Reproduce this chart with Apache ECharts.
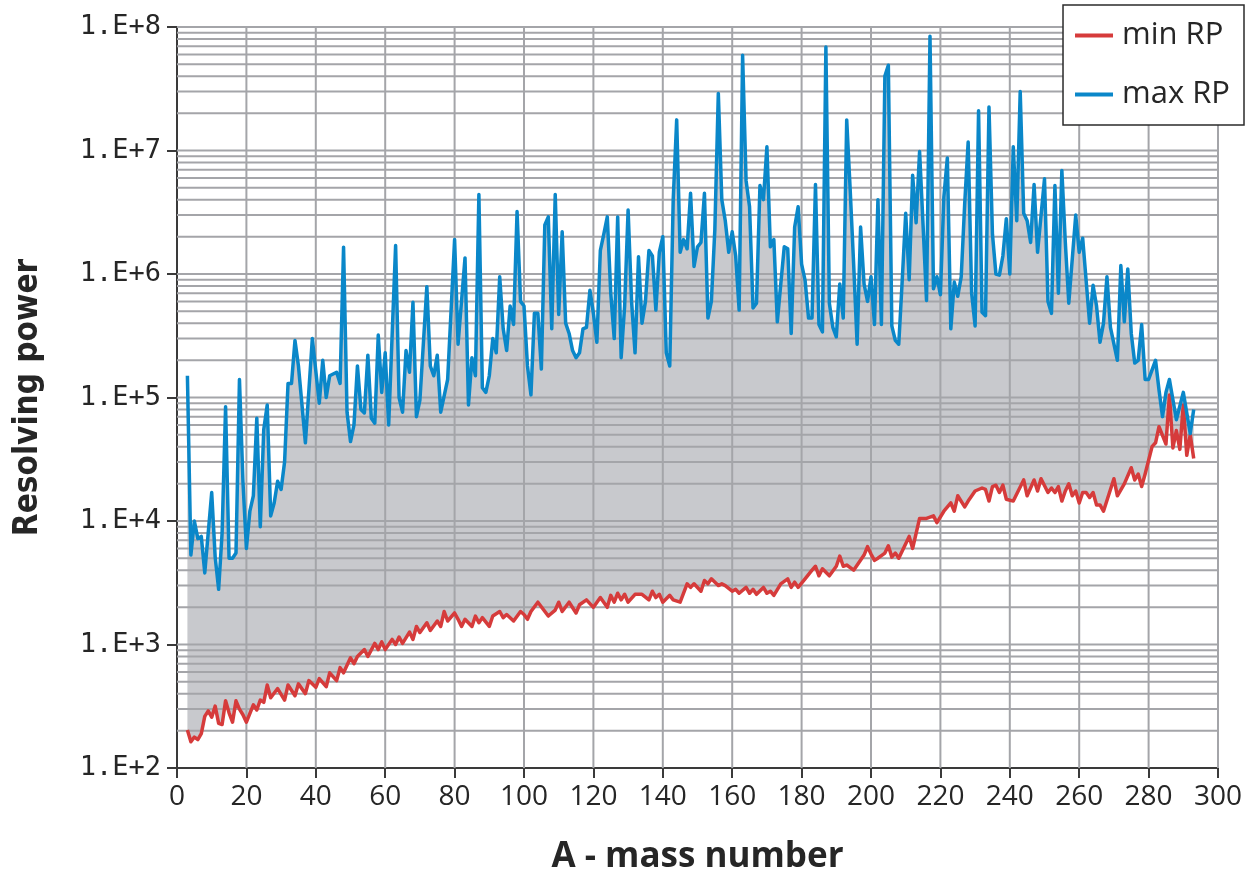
<!DOCTYPE html>
<html>
<head>
<meta charset="utf-8">
<title>Resolving power vs mass number</title>
<script src="https://cdn.jsdelivr.net/npm/echarts@6/dist/echarts.min.js"></script>
<style>
  html, body { margin: 0; padding: 0; background: #ffffff; }
  #chart { width: 1251px; height: 880px; }
</style>
</head>
<body>
<div id="chart"></div>
<script>
// Maximum resolving power per mass number (turning points of the curve)
const maxA = [
  3, 4, 5, 6, 7, 8, 10, 11, 12, 13, 14, 15, 16, 17, 18, 19, 20, 21, 22, 23,
  24, 25, 26, 27, 28, 29, 30, 31, 32, 33, 34, 35, 37, 39, 41, 42, 43, 44, 46, 47,
  48, 49, 50, 51, 52, 53, 54, 55, 56, 57, 58, 59, 60, 61, 63, 64, 65, 66, 67, 68,
  69, 70, 72, 73, 74, 75, 76, 78, 80, 81, 83, 84, 85, 86, 87, 88, 89, 90, 91, 92,
  93, 94, 95, 96, 97, 98, 99, 100, 101, 102, 103, 104, 105, 106, 107, 108, 109, 110, 111, 112,
  113, 114, 115, 116, 117, 118, 119, 120, 121, 122, 123, 124, 125, 126, 127, 128, 129, 130, 131, 132,
  133, 134, 135, 136, 137, 138, 139, 140, 141, 142, 143, 144, 145, 146, 147, 148, 149, 150, 151, 152,
  153, 154, 155, 156, 157, 158, 159, 160, 161, 162, 163, 164, 165, 166, 167, 168, 169, 170, 171, 172,
  173, 174, 175, 176, 177, 178, 179, 180, 181, 182, 183, 184, 185, 186, 187, 188, 189, 190, 191, 192,
  193, 194, 195, 196, 197, 198, 199, 200, 201, 202, 203, 204, 205, 206, 207, 208, 209, 210, 211, 212,
  213, 214, 215, 216, 217, 218, 219, 220, 221, 222, 223, 224, 225, 226, 227, 228, 229, 230, 231, 232,
  233, 234, 235, 236, 237, 238, 239, 240, 241, 242, 243, 244, 245, 246, 247, 248, 250, 251, 252, 253,
  254, 255, 256, 257, 259, 260, 261, 263, 264, 265, 266, 267, 268, 269, 271, 272, 273, 274, 275, 276,
  277, 278, 279, 280, 282, 283, 284, 285, 286, 288, 290, 292, 293
];
const maxRP = [
  1.5e5, 5.3e3, 1.0e4, 7.2e3, 7.5e3, 3.8e3, 1.7e4, 5.1e3, 2.8e3, 8e3, 8.4e4, 5e3, 5e3, 5.5e3, 1.4e5, 2.1e4, 6e3, 1.2e4, 1.6e4, 6.8e4,
  9e3, 5.5e4, 8.7e4, 1.1e4, 1.4e4, 2.1e4, 1.8e4, 3e4, 1.3e5, 1.3e5, 2.9e5, 1.8e5, 4.3e4, 3e5, 9e4, 2e5, 1e5, 1.5e5, 1.6e5, 1.3e5,
  1.65e6, 7.6e4, 4.4e4, 6e4, 1.8e5, 8e4, 7.5e4, 2.2e5, 6.8e4, 6.2e4, 3.2e5, 1.1e5, 2.3e5, 6e4, 1.7e6, 1e5, 7.6e4, 2.4e5, 1.6e5, 5.9e5,
  7e4, 9.5e4, 7.9e5, 1.8e5, 1.5e5, 2.2e5, 7.6e4, 1.4e5, 1.9e6, 2.7e5, 1.35e6, 8.7e4, 2.1e5, 1.5e5, 4.4e6, 1.2e5, 1.1e5, 1.5e5, 3e5, 2.3e5,
  9.5e5, 3.6e5, 2.4e5, 5.5e5, 3.9e5, 3.2e6, 6e5, 5.5e5, 1.8e5, 1.05e5, 4.8e5, 4.8e5, 1.7e5, 2.5e6, 2.9e6, 3.6e5, 4.4e6, 4.7e5, 2.2e6, 4e5,
  3.3e5, 2.4e5, 2.1e5, 2.3e5, 3.6e5, 3.7e5, 7.4e5, 4.8e5, 2.8e5, 1.55e6, 2.1e6, 2.9e6, 7e5, 3e5, 2.9e6, 2.1e5, 5.5e5, 3.3e6, 6e5, 2.3e5,
  1.38e6, 4e5, 6e5, 1.55e6, 1.4e6, 5.1e5, 1.5e6, 2e6, 2.3e5, 1.8e5, 4e6, 1.77e7, 1.5e6, 1.9e6, 1.6e6, 4.5e6, 1.15e6, 1.66e6, 1.8e6, 4.5e6,
  4.4e5, 6e5, 2.3e6, 2.9e7, 4e6, 2.7e6, 1.5e6, 2.2e6, 1.4e6, 5.1e5, 5.9e7, 5.7e6, 3.5e6, 5.3e5, 5.8e5, 5.2e6, 4e6, 1.07e7, 1.66e6, 1.9e6,
  4.1e5, 8.3e5, 1.66e6, 1.6e6, 3.3e5, 2.4e6, 3.5e6, 1.2e6, 8.9e5, 4.4e5, 4.4e5, 5.3e6, 3.9e5, 3.4e5, 6.9e7, 5.8e5, 3.7e5, 3.1e5, 8.3e5, 4.4e5,
  1.77e7, 4.8e6, 1.2e6, 2.7e5, 2.4e6, 8.3e5, 6e5, 9.5e5, 3.9e5, 4e6, 3.9e5, 4e7, 4.9e7, 3.8e5, 2.9e5, 2.7e5, 8.9e5, 3.1e6, 9e5, 6.3e6,
  2.6e6, 9.8e6, 2.5e6, 6.1e5, 8.4e7, 7.6e5, 9.5e5, 6.8e5, 4.2e6, 8.7e6, 3.6e5, 8.6e5, 6.6e5, 9.5e5, 3.7e6, 1.17e7, 7e5, 3.8e5, 2.1e7, 4.9e5,
  4.6e5, 2.25e7, 2.1e6, 1e6, 9.8e5, 1.4e6, 2.8e6, 1e6, 1.07e7, 2.7e6, 3e7, 3.1e6, 2.7e6, 1.8e6, 5.3e6, 1.5e6, 5.9e6, 6e5, 4.8e5, 5.2e6,
  7e5, 6.9e6, 1.8e6, 5.8e5, 3e6, 1.5e6, 1.95e6, 4e5, 8.1e5, 5.5e5, 2.8e5, 4e5, 9.5e5, 3.7e5, 2e5, 1.17e6, 4.1e5, 1.1e6, 3.3e5, 1.9e5,
  2e5, 3.9e5, 1.4e5, 1.4e5, 2e5, 1.15e5, 7e4, 1.1e5, 1.4e5, 6.6e4, 1.1e5, 5.1e4, 8e4
];

// Minimum resolving power per mass number
const minA = [
  3, 4, 5, 6, 7, 8, 9, 10, 11, 12, 13, 14, 15, 16, 17, 18, 19, 20, 22, 23,
  24, 25, 26, 27, 29, 31, 32, 34, 35, 37, 38, 40, 41, 43, 44, 46, 47, 48, 50, 51,
  52, 54, 55, 57, 58, 59, 60, 62, 63, 64, 65, 67, 68, 69, 70, 72, 73, 75, 76, 77,
  78, 80, 81, 82, 83, 85, 86, 87, 88, 90, 91, 93, 94, 95, 97, 99, 100, 101, 102, 104,
  107, 109, 110, 111, 113, 115, 116, 118, 120, 122, 124, 125, 126, 127, 128, 129, 130, 132, 134, 136,
  137, 138, 139, 140, 142, 143, 145, 147, 148, 149, 151, 152, 153, 154, 156, 157, 158, 160, 161, 162,
  164, 165, 166, 167, 169, 170, 171, 172, 174, 176, 177, 178, 179, 181, 183, 184, 185, 186, 188, 190,
  191, 192, 193, 195, 198, 199, 200, 201, 202, 204, 205, 206, 207, 208, 211, 212, 214, 216, 218, 219,
  221, 223, 224, 225, 227, 228, 230, 232, 233, 234, 235, 236, 237, 238, 239, 241, 244, 245, 247, 248,
  249, 251, 252, 253, 254, 255, 256, 257, 258, 259, 260, 261, 262, 263, 264, 265, 266, 267, 270, 271,
  273, 275, 276, 277, 278, 279, 281, 282, 283, 285, 286, 287, 288, 289, 290, 291, 292, 293
];
const minRP = [
  203, 163, 178, 170, 190, 262, 290, 258, 317, 230, 225, 350, 280, 235, 350, 300, 270, 235, 325, 295,
  355, 340, 470, 370, 440, 355, 470, 385, 480, 400, 510, 450, 530, 455, 590, 510, 650, 590, 780, 700,
  800, 910, 800, 1020, 910, 1050, 910, 1100, 1000, 1150, 1020, 1260, 1100, 1400, 1250, 1500, 1300, 1550, 1400, 1850,
  1550, 1800, 1600, 1400, 1600, 1400, 1700, 1500, 1650, 1400, 1700, 1850, 1650, 1750, 1550, 1850, 1750, 1600, 1850, 2200,
  1700, 1900, 2200, 1850, 2200, 1800, 2100, 2300, 2000, 2400, 2000, 2500, 2200, 2600, 2300, 2550, 2200, 2550, 2550, 2300,
  2700, 2400, 2550, 2200, 2500, 2300, 2200, 3100, 2900, 3100, 2700, 3300, 3100, 3400, 3000, 3100, 3000, 2700, 2800, 2600,
  2900, 2600, 2800, 2550, 2900, 2600, 2700, 2500, 3100, 3400, 2900, 3200, 2900, 3400, 4000, 4300, 3600, 4100, 3600, 4300,
  5200, 4300, 4400, 4000, 5300, 6200, 5400, 4800, 5000, 5500, 6300, 5100, 5500, 5000, 7500, 6000, 10500, 10500, 11000, 9700,
  12000, 14000, 12000, 16000, 13000, 14500, 17500, 18500, 18000, 14500, 19000, 19500, 17000, 19500, 15000, 14500, 21500, 16000, 21500, 17500,
  22000, 17000, 18500, 17000, 19000, 14500, 17500, 20000, 16000, 17500, 14000, 17000, 17000, 15500, 17000, 13500, 13500, 12000, 22000, 16000,
  20000, 27000, 21500, 24000, 19000, 24000, 40000, 43000, 58000, 42000, 105000, 39000, 54000, 38000, 87000, 34000, 50000, 32000
];

// Axis ticks
const xTicks = [0, 20, 40, 60, 80, 100, 120, 140, 160, 180, 200, 220, 240, 260, 280, 300];
const yDecades = [2, 3, 4, 5, 6, 7, 8];
const yMinorSteps = [1, 2, 3, 4, 5, 6, 7, 8, 9];

const maxSeries = maxA.map((a, i) => [a, maxRP[i]]);
const minSeries = minA.map((a, i) => [a, minRP[i]]);

const RED = '#d63b3b';
const BLUE = '#0a87c9';
const GRID = '#a4a5a9';
const FILL = '#c8c9cd';

const chart = echarts.init(document.getElementById('chart'), null, { renderer: 'canvas' });

const option = {
  animation: false,
  backgroundColor: '#ffffff',
  grid: { left: 177, right: 33, top: 27, bottom: 112, containLabel: false },
  legend: {
    orient: 'vertical',
    right: 7,
    top: 5,
    padding: [15, 14, 15, 12],
    itemGap: 28,
    itemWidth: 38,
    itemHeight: 4,
    icon: 'rect',
    backgroundColor: '#ffffff',
    borderColor: '#2b2b2b',
    borderWidth: 1.5,
    borderRadius: 0,
    textStyle: { fontSize: 31, color: '#262626', padding: [0, 0, 0, 4], fontFamily: 'Open Sans, Noto Sans, sans-serif' },
    data: ['min RP', 'max RP']
  },
  xAxis: {
    type: 'value',
    min: 0,
    max: 300,
    interval: 20,
    name: 'A - mass number',
    nameLocation: 'middle',
    nameGap: 72,
    nameTextStyle: { fontSize: 35, fontWeight: 'bold', color: '#262626', fontFamily: 'Open Sans, Noto Sans, sans-serif' },
    axisLine: { show: true, lineStyle: { color: '#3a3a3a', width: 2 } },
    axisTick: { show: true, length: 10, lineStyle: { color: '#3a3a3a', width: 2 } },
    axisLabel: { fontSize: 28, color: '#262626', margin: 15, fontFamily: 'Open Sans, Noto Sans, sans-serif' },
    splitLine: { show: false }
  },
  yAxis: {
    type: 'log',
    logBase: 10,
    min: 100,
    max: 1e8,
    name: 'Resolving power',
    nameLocation: 'middle',
    nameRotate: 90,
    nameGap: 132,
    nameTextStyle: { fontSize: 33, fontWeight: 'bold', color: '#262626', fontFamily: 'Liberation Sans Narrow, DejaVu Sans Condensed, Open Sans, sans-serif' },
    axisLine: { show: true, lineStyle: { color: '#3a3a3a', width: 2 } },
    axisTick: { show: true, length: 10, lineStyle: { color: '#3a3a3a', width: 2 } },
    axisLabel: {
      fontSize: 27, color: '#262626', margin: 16,
      fontFamily: 'DejaVu Sans Mono, Liberation Mono, monospace',
      formatter: v => '1.E+' + Math.round(Math.log10(v))
    },
    splitLine: { show: false }
  },
  series: [
    {
      // grey band between the minimum and maximum curves
      type: 'custom',
      name: 'band',
      z: 1,
      silent: true,
      data: [[maxA[0], maxRP[0]]],
      renderItem: function (params, api) {
        const pts = [];
        for (let i = 0; i < maxA.length; i++) pts.push(api.coord([maxA[i], maxRP[i]]));
        for (let i = minA.length - 1; i >= 0; i--) pts.push(api.coord([minA[i], minRP[i]]));
        return { type: 'polygon', shape: { points: pts }, style: { fill: FILL, stroke: null } };
      }
    },
    {
      // major vertical and logarithmic horizontal grid lines
      type: 'custom',
      name: 'gridlines',
      z: 2,
      silent: true,
      data: [[0, 100]],
      renderItem: function (params, api) {
        const children = [];
        const style = { stroke: GRID, lineWidth: 2 };
        xTicks.forEach(x => {
          if (x === 0) return;
          const p0 = api.coord([x, 100]);
          const p1 = api.coord([x, 1e8]);
          children.push({ type: 'line', shape: { x1: p0[0], y1: p0[1], x2: p1[0], y2: p1[1] }, style });
        });
        yDecades.forEach(d => {
          yMinorSteps.forEach(m => {
            const v = m * Math.pow(10, d);
            if (v > 1e8 || v <= 100) return;
            const p0 = api.coord([0, v]);
            const p1 = api.coord([300, v]);
            children.push({ type: 'line', shape: { x1: p0[0], y1: p0[1], x2: p1[0], y2: p1[1] }, style });
          });
        });
        return { type: 'group', children };
      }
    },
    {
      name: 'min RP',
      type: 'line',
      z: 4,
      data: minSeries,
      showSymbol: false,
      symbol: 'none',
      color: RED,
      lineStyle: { color: RED, width: 3.5, join: 'round' }
    },
    {
      name: 'max RP',
      type: 'line',
      z: 5,
      data: maxSeries,
      showSymbol: false,
      symbol: 'none',
      color: BLUE,
      lineStyle: { color: BLUE, width: 3.5, join: 'round' }
    }
  ]
};

chart.setOption(option);
</script>
</body>
</html>
